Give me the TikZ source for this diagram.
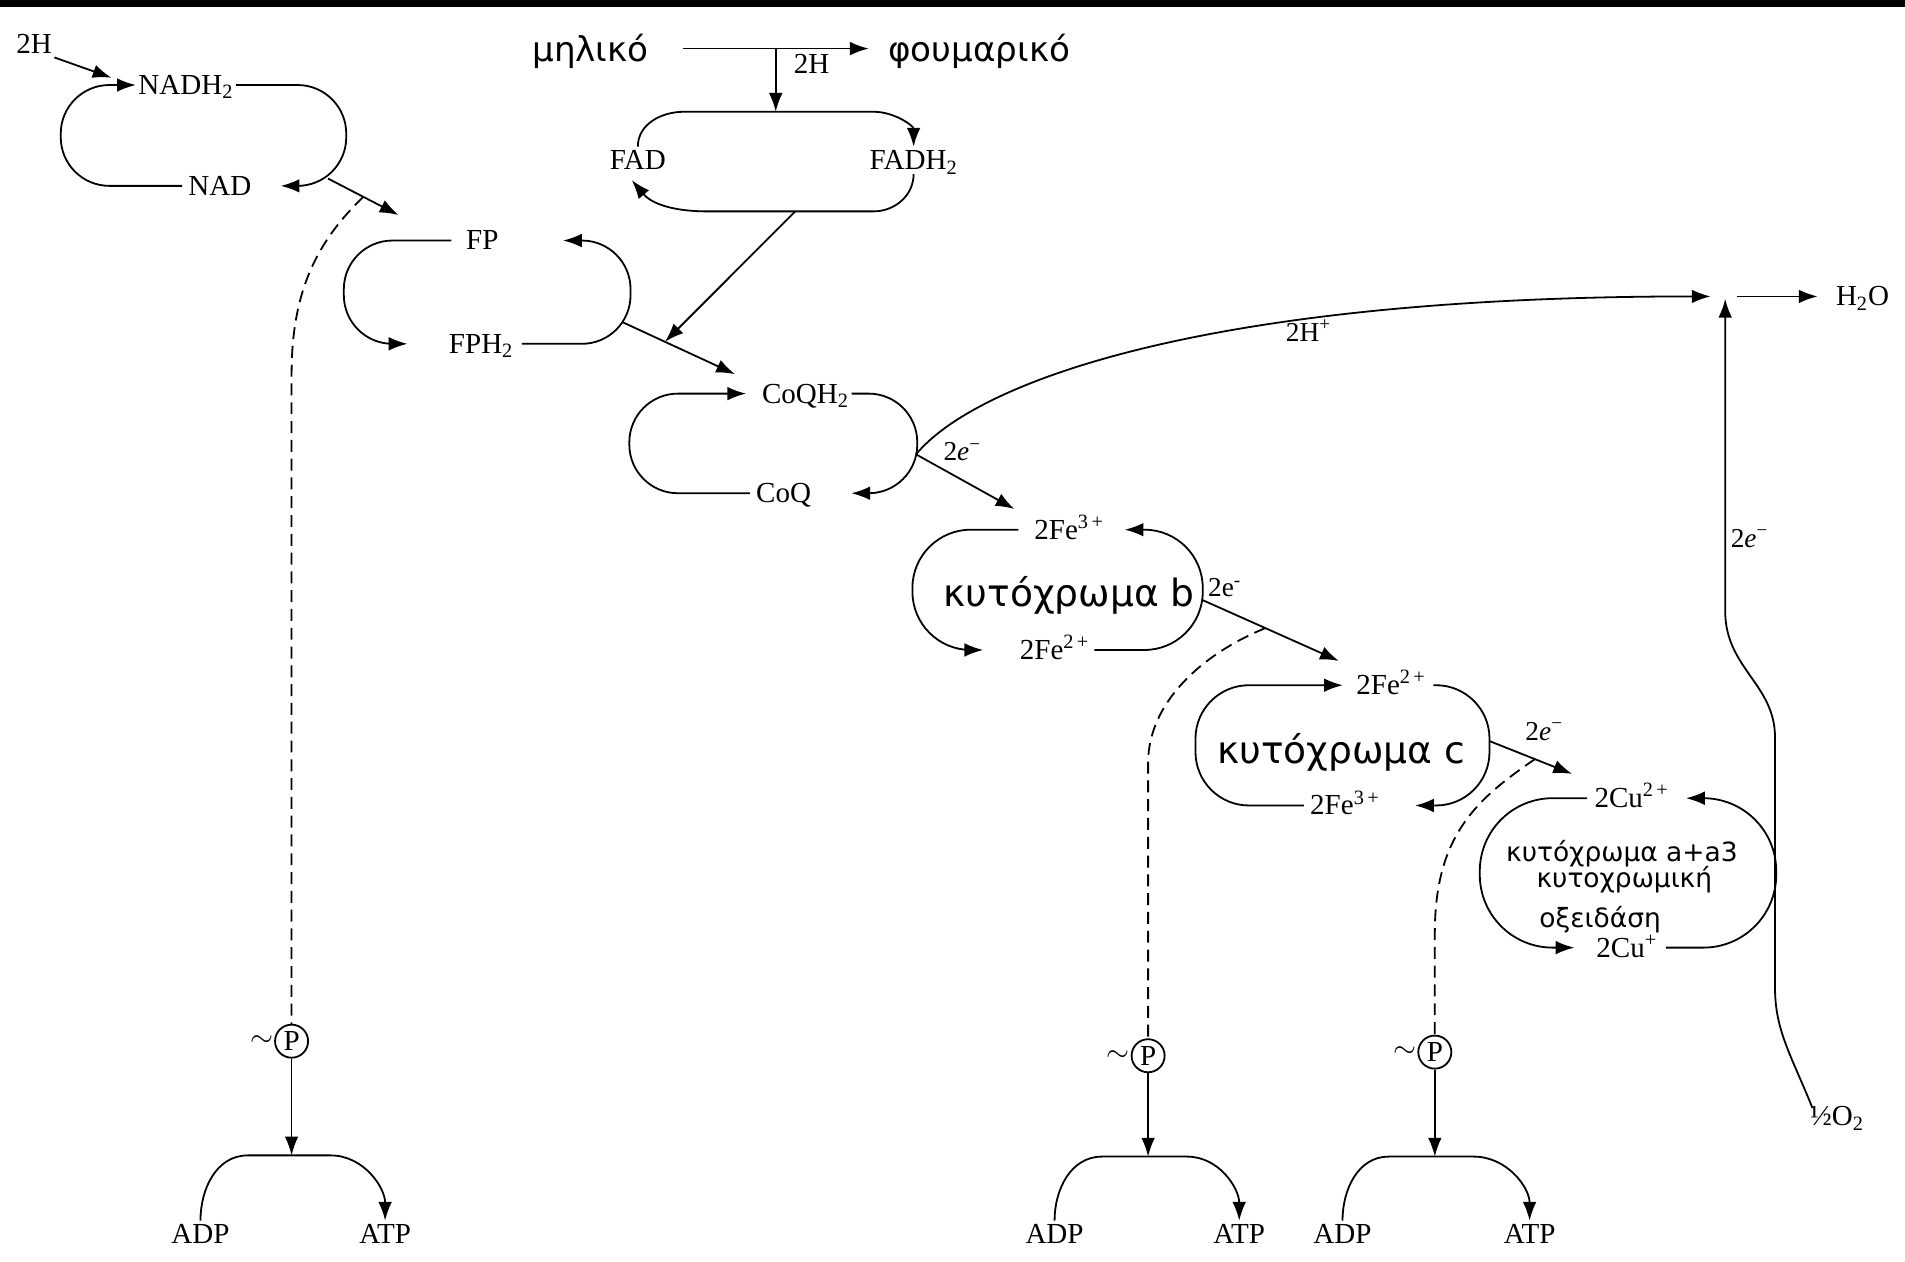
\documentclass[tikz,border=0pt]{standalone}
\usepackage{fontspec}
\setmainfont{Liberation Serif}
\newfontfamily\grfont{DejaVu Sans}
\usepackage{tikz}
\usetikzlibrary{arrows.meta}
\usetikzlibrary{positioning}
\usetikzlibrary{calc}
\tikzset{lbl/.style = {inner sep = 1pt, text height = 12pt, text depth = 1pt, font = \fontsize{17}{20}\selectfont}}
\tikzset{note/.style = {inner sep = 1pt, font = \fontsize{16}{18}\selectfont}}
\tikzset{gr/.style = {inner sep = 1pt, font = \grfont\fontsize{20}{24}\selectfont}}
\tikzset{cyt/.style = {inner sep = 1pt, font = \grfont\fontsize{22}{26}\selectfont}}
\tikzset{cytsm/.style = {inner sep = 0pt, font = \grfont\fontsize{15.5}{18}\selectfont}}
\tikzset{phos/.style = {draw, circle, inner sep = 0, minimum size = 0.68cm, font = \fontsize{17}{20}\selectfont}}
\tikzset{wave/.style = {inner sep = 0, font = \fontsize{18}{18}\selectfont}}
\tikzset{flow/.style = {-{Latex[length = 11pt, width = 8pt]}}}
\tikzset{hpi/.style = {dash pattern = on 7pt off 4pt}}

\begin{document}
\begin{tikzpicture}[x = 0.025cm, y = 0.025cm, line width = 1.05pt]
      \useasboundingbox (0, 0) rectangle (1568, 1038);
      \fill (0, 1032) rectangle (1568, 1038);

      % NADH2 / NAD
      \node [lbl] (h2a) at (28, 1002) {2H};
      \node [lbl] (nadh) at (153, 968) {NADH\textsubscript{2}};
      \node [lbl] (nad) at (181, 885) {NAD};
      \draw [flow] (h2a.south east) -- ($(nadh.west) + (-20, 6)$);
      \draw [flow, rounded corners = 1cm] ($(nad.west) + (-3, 0)$) -| (50, 968) -- (nadh.west);
      \draw [flow, rounded corners = 1cm] (nadh.east) -| (285, 885) -- ($(nad.east) + (22, 0)$);
      \coordinate (nadout) at (270, 891);
      \coordinate (fpin) at (328, 861);
      \draw [flow] (nadout) -- coordinate [pos = 0.5] (hp1) (fpin);

      % FAD / FADH2
      \node [gr] (mal) at (486, 996) {μηλικό};
      \node [gr] (fum) at (806, 996) {φουμαρικό};
      \draw [flow] ($(mal.east) + (26, 2)$) -- coordinate [pos = 0.5] (mfork) ($(fum.west) + (-14, 2)$);
      \node [lbl] (h2b) at (668, 985) {2H};
      \node [lbl] (fad) at (525, 906) {FAD};
      \node [lbl] (fadh) at (752, 906) {FADH\textsubscript{2}};
      \coordinate (fadtop) at (637, 946);
      \draw [flow] (mfork) -- (mfork |- fadtop);
      \draw [flow] (fad.north) to [out = 90, in = 180] (563, 946) -- (719, 946) to [out = 0, in = 90] (fadh.north);
      \draw [flow] (fadh.south) to [out = -90, in = 0] (719, 864) -- coordinate [pos = 0.47] (fadbot) (582, 864) to [out = 180, in = -50] ($(fad.south) + (-5, -5)$);

      % FP / FPH2
      \node [lbl] (fp) at (397, 840) {FP};
      \node [lbl] (fph) at (396, 755) {FPH\textsubscript{2}};
      \draw [flow, rounded corners = 1cm] ($(fp.west) + (-10, 0)$) -| (283, 755) -- ($(fph.west) + (-32, 0)$);
      \draw [flow, rounded corners = 1cm] ($(fph.east) + (5, 0)$) -| (519, 840) -- ($(fp.east) + (51, 0)$);
      \coordinate (fpout) at (512, 773);
      \coordinate (coqin) at (605, 730);
      \draw [flow] (fpout) -- coordinate [pos = 0.38] (fadin) (coqin);
      \draw [flow] (fadbot) -- (fadin);

      % CoQ
      \node [lbl] (coqh) at (663, 714) {CoQH\textsubscript{2}};
      \node [lbl] (coq) at (645, 632) {CoQ};
      \draw [flow, rounded corners = 1cm] ($(coq.west) + (-3, 0)$) -| (518, 714) -- ($(coqh.west) + (-11, 0)$);
      \draw [flow, rounded corners = 1cm] (coqh.east) -| (755, 632) -- ($(coq.east) + (31, 0)$);
      \coordinate (coqr) at (754, 664);
      \coordinate (junc) at (1420, 794);
      \draw [flow] (coqr) .. controls (800, 720) and (980, 794) .. ($(junc) + (-12, 0)$);
      \node [note] (hplus) at (1077, 766) {2H\textsuperscript{+}};
      \node [note] (e1) at (792, 666) {2\textit{e}\textsuperscript{−}};
      \coordinate (bin) at (835, 619);
      \draw [flow] (coqr) -- (bin);

      % cytochrome b
      \node [lbl] (fe3b) at (880, 602) {2Fe\textsuperscript{3\,+}};
      \node [lbl] (fe2b) at (868, 503) {2Fe\textsuperscript{2\,+}};
      \node [cyt] (cytb) at (880, 548) {κυτόχρωμα b};
      \draw [flow, rounded corners = 1.2cm] ($(fe3b.west) + (-11, 0)$) -| (751, 503) -- ($(fe2b.west) + (-28, 0)$);
      \draw [flow, rounded corners = 1.2cm] ($(fe2b.east) + (2, 0)$) -| (990, 602) -- ($(fe3b.east) + (15, 0)$);
      \coordinate (bout) at (990, 544);
      \coordinate (cin) at (1102, 494);
      \draw [flow] (bout) -- coordinate [pos = 0.46] (hp2) (cin);
      \node [note] (e2) at (1008, 554) {2e\textsuperscript{-}};

      % cytochrome c
      \node [lbl] (fe2c) at (1145, 474) {2Fe\textsuperscript{2\,+}};
      \node [lbl] (fe3c) at (1107, 375) {2Fe\textsuperscript{3\,+}};
      \node [cyt] (cytc) at (1104, 419) {κυτόχρωμα c};
      \draw [flow, rounded corners = 1.1cm] ($(fe3c.west) + (-3, 0)$) -| (984, 474) -- ($(fe2c.west) + (-9, 0)$);
      \draw [flow, rounded corners = 1.1cm] ($(fe2c.east) + (4, 0)$) -| (1226, 375) -- ($(fe3c.east) + (27, 0)$);
      \coordinate (cout) at (1226, 428);
      \coordinate (ain) at (1294, 401);
      \draw [flow] (cout) -- coordinate [pos = 0.55] (hp3) (ain);
      \node [note] (e3) at (1271, 436) {2\textit{e}\textsuperscript{−}};

      % cytochrome a+a3
      \node [lbl] (cu2) at (1343, 381) {2Cu\textsuperscript{2\,+}};
      \node [lbl] (cu1) at (1339, 258) {2Cu\textsuperscript{+}};
      \node [cytsm] (cyta) at (1335, 335) {κυτόχρωμα a+a3};
      \node [cytsm] (cyto) at (1337, 314) {κυτοχρωμική};
      \node [cytsm] (oxid) at (1317, 281) {οξειδάση};
      \draw [flow, rounded corners = 1.5cm] ($(cu2.west) + (-4, 0)$) -| (1218, 258) -- ($(cu1.west) + (-16, 0)$);
      \draw [flow, rounded corners = 1.5cm] ($(cu1.east) + (5, 0)$) -| (1462, 381) -- ($(cu2.east) + (12, 0)$);

      % oxygen
      \node [lbl] (o2) at (1512, 119) {½O\textsubscript{2}};
      \draw [flow] ($(o2.north west) + (4, -4)$) .. controls (1474, 170) and (1461, 190) .. (1461, 225) -- (1461, 431) .. controls (1461, 475) and (1420, 488) .. (1420, 535) -- ($(junc) + (0, -2)$);
      \node [note] (e4) at (1440, 595) {2\textit{e}\textsuperscript{−}};
      \node [lbl] (h2o) at (1533, 794) {H\textsubscript{2}O};
      \draw [flow] ($(junc) + (10, 0)$) -- ($(h2o.west) + (-13, 0)$);

      % phosphorylation
      \node [phos] (p1) at (240, 181) {P};
      \node [wave, left = 0pt of p1] (w1) {$\sim$};
      \draw [hpi] (hp1) .. controls (262, 840) and (240, 800) .. (240, 730) -- (p1.north);
      \coordinate (a1) at (240, 87);
      \draw [flow] (p1.south) -- (a1);
      \node [lbl] (adp1) at (165, 22) {ADP};
      \node [lbl] (atp1) at (317, 22) {ATP};
      \draw [flow] (adp1.north) to [out = 90, in = 180] ($(a1) + (-36, 0)$) -- ($(a1) + (32, 0)$) to [out = 0, in = 90] (atp1.north);

      \node [phos] (p2) at (945, 169) {P};
      \node [wave, left = 0pt of p2] (w2) {$\sim$};
      \draw [hpi] (hp2) .. controls (990, 500) and (945, 460) .. (945, 410) -- (p2.north);
      \coordinate (a2) at (945, 86);
      \draw [flow] (p2.south) -- (a2);
      \node [lbl] (adp2) at (868, 22) {ADP};
      \node [lbl] (atp2) at (1020, 22) {ATP};
      \draw [flow] (adp2.north) to [out = 90, in = 180] ($(a2) + (-38, 0)$) -- ($(a2) + (32, 0)$) to [out = 0, in = 90] (atp2.north);

      \node [phos] (p3) at (1181, 172) {P};
      \node [wave, left = 0pt of p3] (w3) {$\sim$};
      \draw [hpi] (hp3) .. controls (1215, 380) and (1181, 350) .. (1181, 270) -- (p3.north);
      \coordinate (a3) at (1181, 86);
      \draw [flow] (p3.south) -- (a3);
      \node [lbl] (adp3) at (1105, 22) {ADP};
      \node [lbl] (atp3) at (1259, 22) {ATP};
      \draw [flow] (adp3.north) to [out = 90, in = 180] ($(a3) + (-38, 0)$) -- ($(a3) + (32, 0)$) to [out = 0, in = 90] (atp3.north);
    \end{tikzpicture}
\end{document}
